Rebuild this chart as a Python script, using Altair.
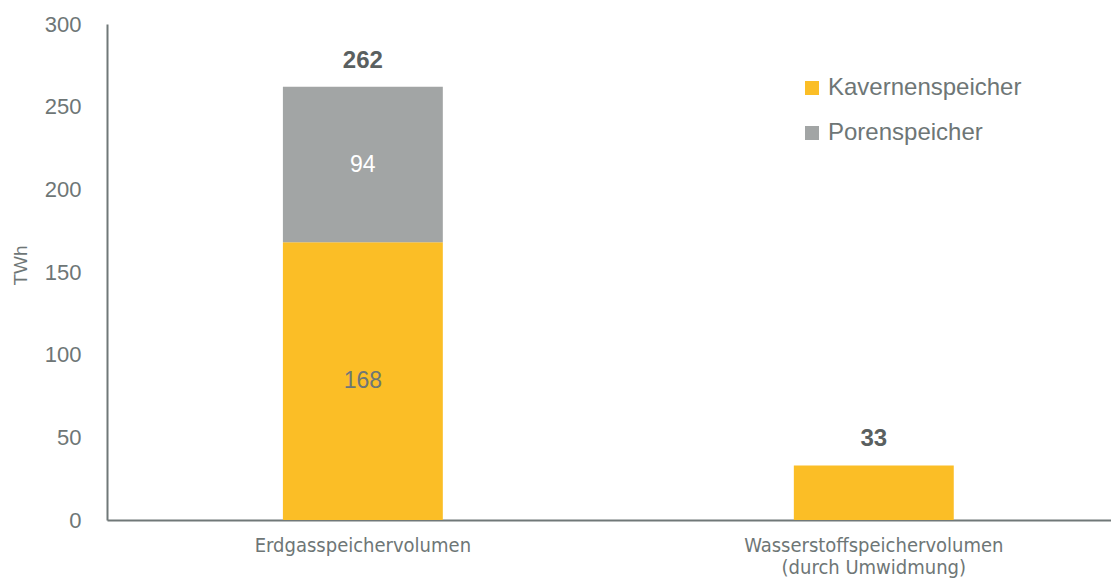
import altair as alt
import pandas as pd

categories = ["Erdgasspeichervolumen", "Wasserstoffspeichervolumen\n(durch Umwidmung)"]
kavernen = [168, 33]
poren = [94, 0]
series = ["Kavernenspeicher", "Porenspeicher"]
colors = ["#FBBE26", "#A2A5A5"]

rows = []
for c, k, p in zip(categories, kavernen, poren):
    rows.append({"cat": c, "series": series[0], "value": k, "order": 0})
    if p > 0:
        rows.append({"cat": c, "series": series[1], "value": p, "order": 1})
df = pd.DataFrame(rows)

tot = pd.DataFrame({"cat": categories, "total": [k + p for k, p in zip(kavernen, poren)]})

FONT = "Liberation Sans"
COND = "DejaVu Sans Condensed"
TXT = "#6E7676"

xscale = alt.Scale(domain=categories, paddingInner=0.687, paddingOuter=0.326, align=0.528)
x = alt.X("cat:N", scale=xscale, sort=categories, title=None,
          axis=alt.Axis(labelAngle=0, ticks=False, labelFontSize=20, labelColor=TXT,
                        labelFont=COND, labelPadding=15, domainColor="#707878",
                        domainWidth=2, labelExpr="split(datum.label, '\\n')",
                        labelLineHeight=22, labelLimit=400))

base = alt.Chart(df)
bars = base.mark_bar().encode(
    x=x,
    y=alt.Y("value:Q", stack="zero", scale=alt.Scale(domain=[0, 300]),
            title="TWh",
            axis=alt.Axis(values=[0, 50, 100, 150, 200, 250, 300], grid=False, ticks=False,
                          labelFontSize=22, labelColor=TXT, labelFont=FONT, labelPadding=26,
                          titleFontSize=19, titleColor=TXT, titleFont=FONT, titleFontWeight="normal",
                          titlePadding=14, titleY=241, domainColor="#707878", domainWidth=2)),
    color=alt.Color("series:N", scale=alt.Scale(domain=series, range=colors), sort=series,
                    legend=alt.Legend(title=None, orient="none", legendX=693, legendY=52,
                                      symbolType="square", symbolSize=196, symbolStrokeWidth=0,
                                      labelFontSize=24, labelColor=TXT, labelFont=FONT,
                                      rowPadding=21, labelOffset=4, labelLimit=400)),
    order=alt.Order("order:Q"),
)

inner = base.transform_filter("datum.value > 0").transform_stack(
    stack="value", groupby=["cat"], as_=["v0", "v1"], sort=[alt.SortField("order")]
).transform_calculate(mid="(datum.v0 + datum.v1) / 2").transform_filter(
    "datum.cat == 'Erdgasspeichervolumen'"
).mark_text(fontSize=23, font=FONT).encode(
    x=x,
    y=alt.Y("mid:Q"),
    text=alt.Text("value:Q"),
    color=alt.Color("series:N", scale=alt.Scale(domain=series, range=[TXT, "#FFFFFF"]), legend=None),
)

totals = alt.Chart(tot).mark_text(fontSize=24, font=FONT, fontWeight="bold", color="#5A6060",
                                  dy=-26).encode(
    x=x,
    y=alt.Y("total:Q"),
    text=alt.Text("total:Q"),
)

chart = alt.layer(bars, inner, totals).resolve_scale(color="independent").properties(
    width=1004, height=496,
    padding={"left": 99, "top": 16, "right": 0, "bottom": 60},
    autosize=alt.AutoSizeParams(type="none"),
    background="white",
).configure_view(stroke=None)

chart.save("out.html", embed_options={"renderer": "svg", "actions": False})
